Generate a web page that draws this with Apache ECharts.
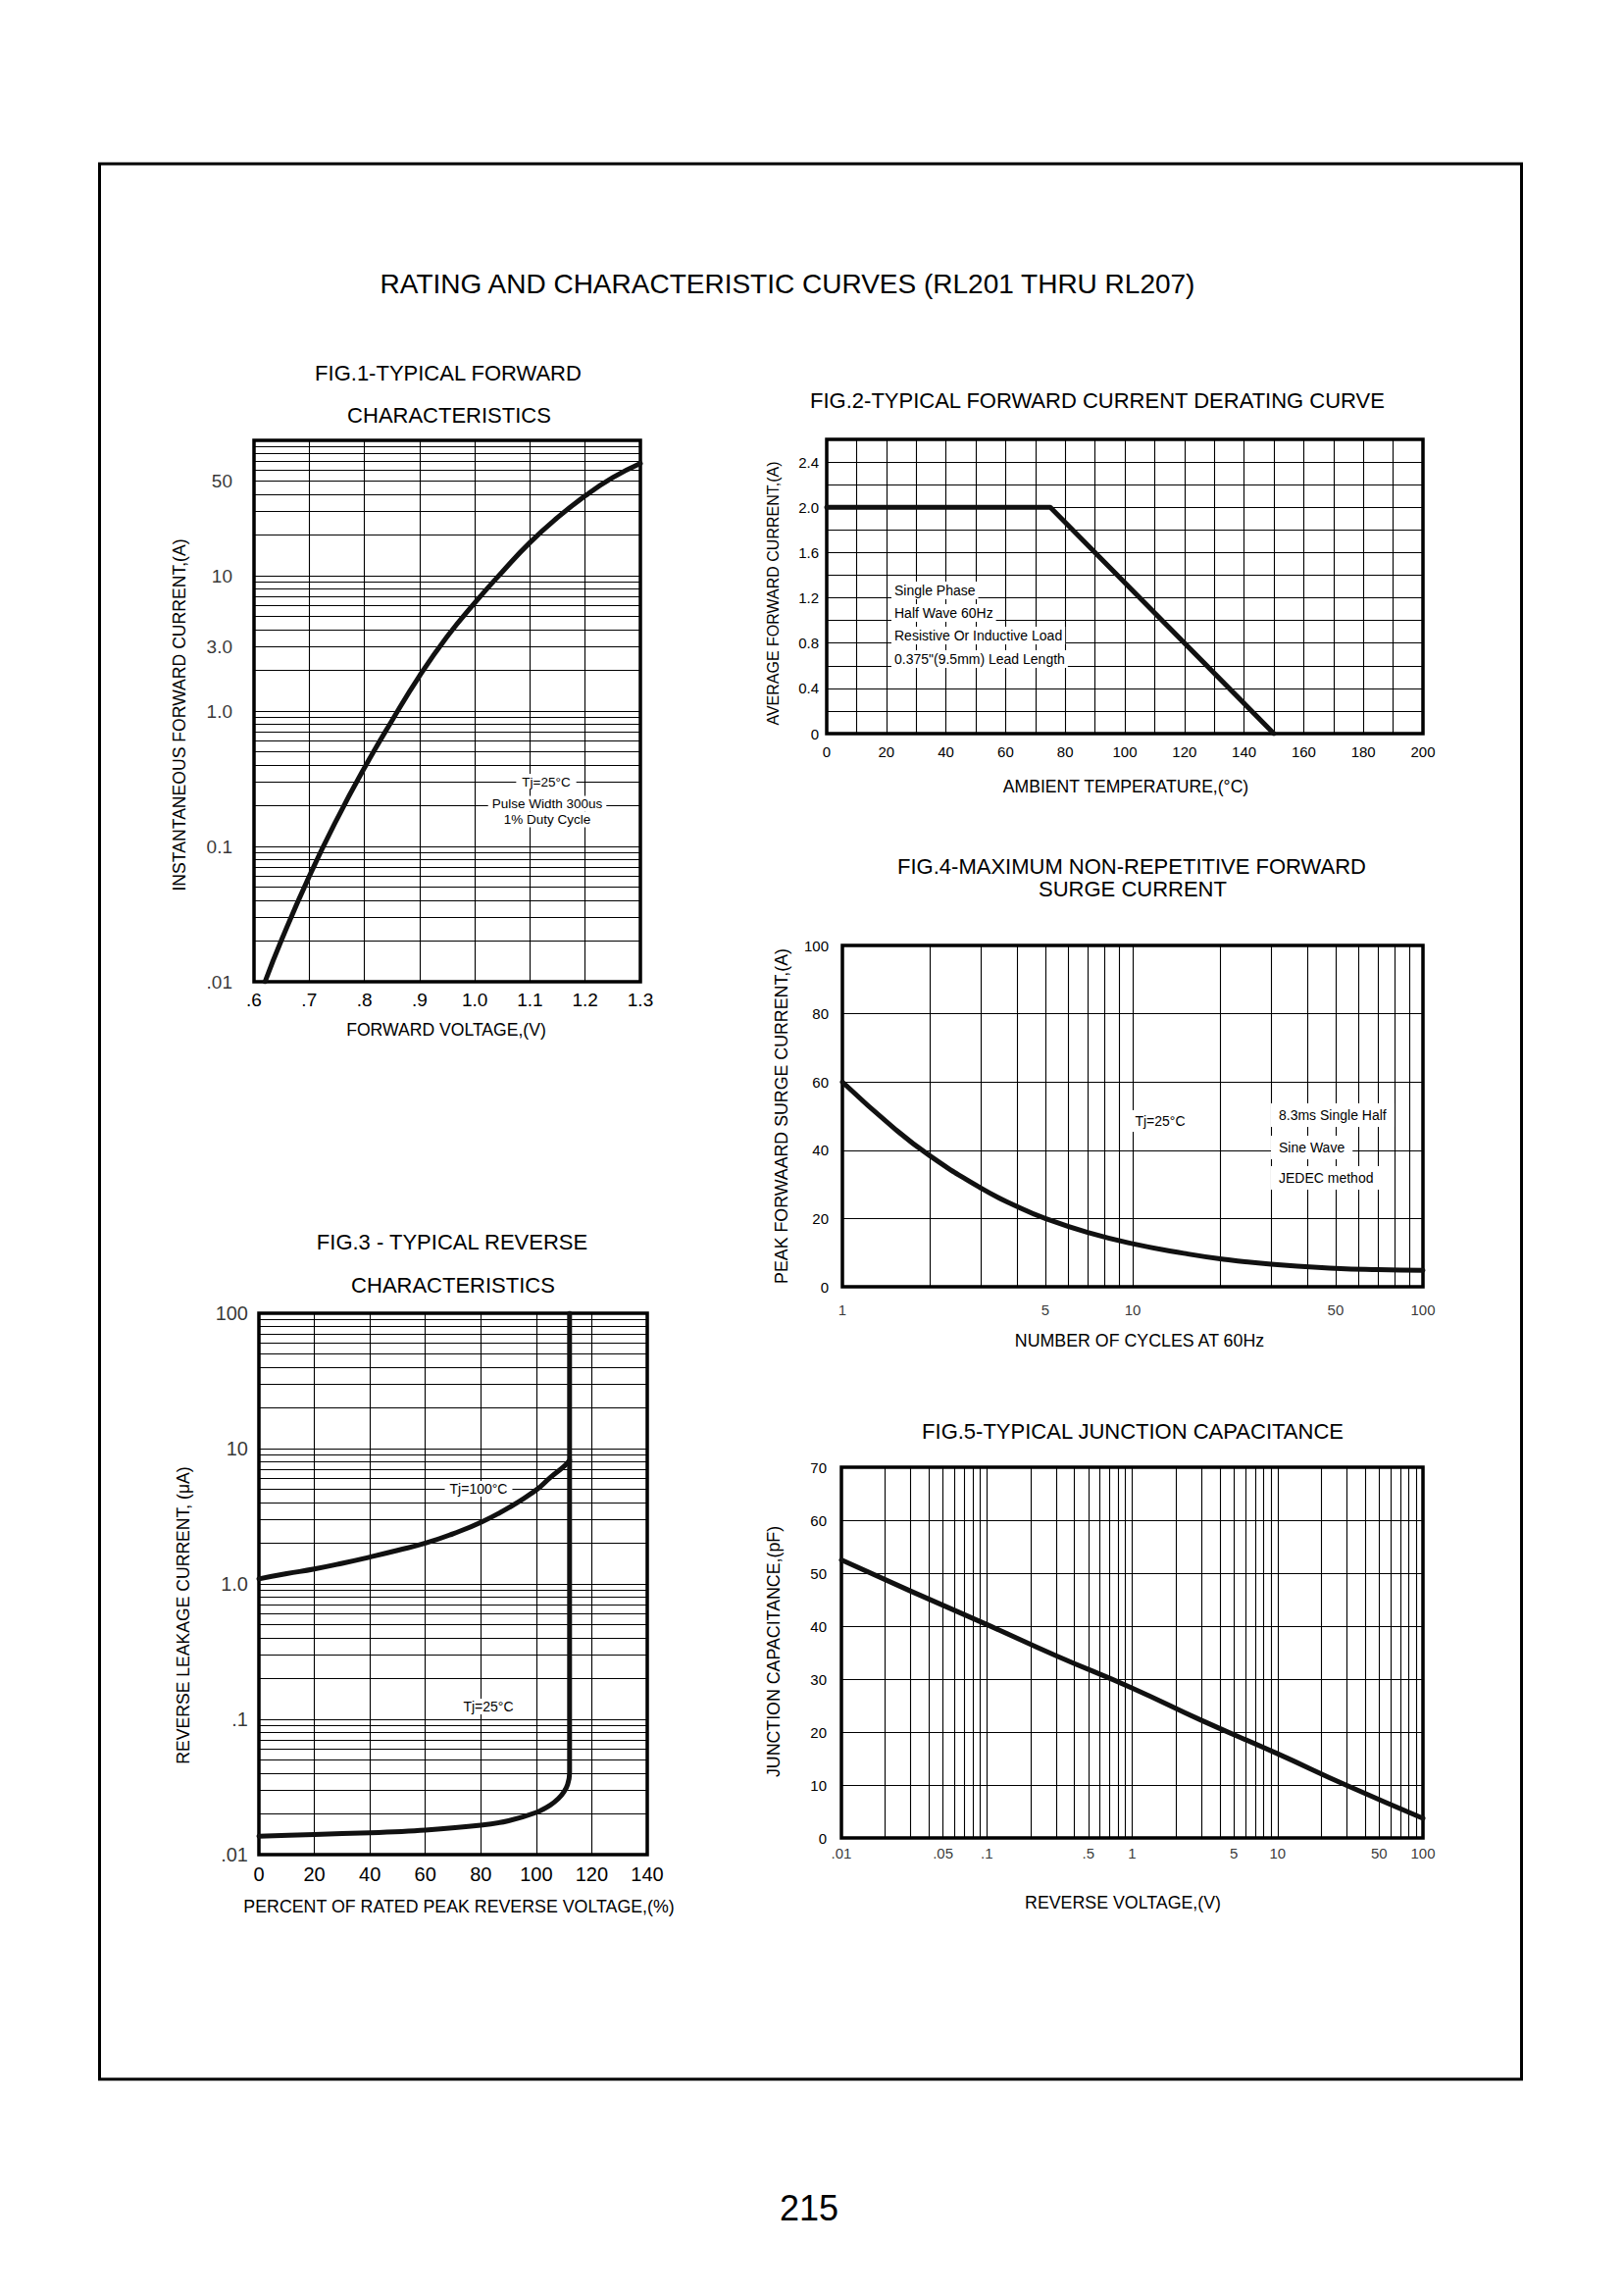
<!DOCTYPE html>
<html>
<head>
<meta charset="utf-8">
<title>RL201 THRU RL207 - Rating and Characteristic Curves</title>
<script src="https://cdn.jsdelivr.net/npm/echarts@6/dist/echarts.min.js"></script>
<style>
html,body{margin:0;padding:0;background:#fff;}
#chart{width:1656px;height:2339px;}
</style>
</head>
<body>
<div id="chart"></div>
<script>
// ===================== DATA =====================
// FIG.1 - Typical forward characteristics (log Y)
const fig1Voltage = [0.62, 0.65, 0.7, 0.75, 0.8, 0.85, 0.9, 0.95, 1.0, 1.05, 1.1, 1.15, 1.2, 1.25, 1.3];
const fig1Current = [0.01, 0.0204, 0.06, 0.158, 0.38, 0.85, 1.82, 3.55, 6.3, 10.7, 17.6, 26.9, 38.9, 53.1, 67.6];
const fig1YTickValues = [50, 10, 3, 1, 0.1, 0.01];
const fig1YTickLabels = ['50', '10', '3.0', '1.0', '0.1', '.01'];

// FIG.2 - Forward current derating curve
const fig2Temperature = [0, 75, 150];
const fig2Current = [2.0, 2.0, 0];

// FIG.3 - Typical reverse characteristics (log Y)
const fig3Percent100 = [0, 10, 20, 30, 40, 50, 60, 70, 80, 90, 100, 105, 110, 112];
const fig3Leakage100 = [1.09, 1.19, 1.29, 1.42, 1.58, 1.77, 2.0, 2.35, 2.85, 3.65, 4.95, 6.1, 7.4, 8.2];
const fig3Percent25 = [0, 20, 40, 60, 80, 90, 100, 105, 108, 110, 111.3, 112, 112, 112];
const fig3Leakage25 = [0.0137, 0.0141, 0.0145, 0.0152, 0.0165, 0.0178, 0.0205, 0.0232, 0.026, 0.0292, 0.033, 0.04, 0.06, 100];
const fig3YTickValues = [100, 10, 1, 0.1, 0.01];
const fig3YTickLabels = ['100', '10', '1.0', '.1', '.01'];

// FIG.4 - Max non-repetitive forward surge current (log X)
const fig4Cycles = [1, 1.5, 2, 3, 4, 5, 7, 10, 15, 20, 30, 50, 70, 100];
const fig4Surge = [60, 46.6, 38.4, 28.9, 23.5, 20.0, 15.9, 12.6, 9.8, 8.2, 6.6, 5.4, 5.0, 4.8];
const fig4XTickValues = [1, 5, 10, 50, 100];
const fig4XTickLabels = ['1', '5', '10', '50', '100'];

// FIG.5 - Typical junction capacitance (log X)
const fig5Voltage = [0.01, 0.03, 0.1, 0.3, 1, 3, 10, 30, 100];
const fig5Capacitance = [52.5, 46.6, 40.3, 34.4, 28.3, 22.2, 15.9, 9.9, 3.7];
const fig5XTickValues = [0.01, 0.05, 0.1, 0.5, 1, 5, 10, 50, 100];
const fig5XTickLabels = ['.01', '.05', '.1', '.5', '1', '5', '10', '50', '100'];

// ===================== HELPERS =====================
const FONT = "'Liberation Sans', Arial, Helvetica, sans-serif";
const INK = '#000';

function logGridValues(minExp, maxExp) {
  const out = [];
  for (let e = minExp; e < maxExp; e++) {
    for (let m = 1; m <= 9; m++) out.push(+(m * Math.pow(10, e)).toPrecision(6));
  }
  out.push(Math.pow(10, maxExp));
  return out;
}
function gridLines(dim, values) {
  return {
    silent: true, animation: false, symbol: ['none', 'none'], z: 1,
    label: { show: false }, emphasis: { disabled: true },
    lineStyle: { color: INK, width: 1.1, type: 'solid', opacity: 1 },
    data: values.map(v => dim === 'y' ? { yAxis: v } : { xAxis: v })
  };
}
function labelSeries(xi, values, labels, fixed, axisDim, pos, dist, size, lines) {
  const s = {
    type: 'scatter', xAxisIndex: xi, yAxisIndex: xi, z: 1, silent: true, clip: false,
    symbolSize: 1, itemStyle: { color: 'rgba(0,0,0,0)' }, animation: false,
    label: { show: true, position: pos, distance: dist, formatter: '{b}', fontSize: size, fontFamily: FONT, color: INK },
    data: values.map((v, i) => ({ name: labels[i], value: axisDim === 'y' ? [fixed, v] : [v, fixed] }))
  };
  if (lines) s.markLine = lines;
  return s;
}
function curve(xi, xs, ys, smooth) {
  return {
    type: 'line', xAxisIndex: xi, yAxisIndex: xi, z: 10, silent: true, symbol: 'none',
    smooth: smooth, animation: false,
    lineStyle: { color: '#111', width: 5, cap: 'round', join: 'round' },
    data: xs.map((x, i) => [x, ys[i]])
  };
}
const splitOn = { show: true, lineStyle: { color: INK, width: 1.1, type: 'solid' } };
const hiddenAxis = { axisLine: { show: false }, axisTick: { show: false }, splitLine: { show: false }, axisLabel: { show: false } };
function linAxis(gi, min, max, interval, labelOpts) {
  return Object.assign({
    gridIndex: gi, type: 'value', min: min, max: max, interval: interval,
    axisLine: { show: false }, axisTick: { show: false }, splitLine: splitOn
  }, { axisLabel: Object.assign({ color: INK, fontFamily: FONT }, labelOpts) });
}
function logAxis(gi, min, max) {
  return Object.assign({ gridIndex: gi, type: 'log', logBase: 10, min: min, max: max }, hiddenAxis);
}
function gridBox(left, top, width, height) {
  return { left, top, width, height, show: true, borderColor: INK, borderWidth: 3.5,
           backgroundColor: 'rgba(0,0,0,0)', containLabel: false, outerBoundsMode: 'none' };
}
function txt(text, x, y, size, extra) {
  const el = { type: 'text', x: x, y: y, z: 100, silent: true,
    style: { text: text, fontSize: size, fontFamily: FONT, fill: INK, align: 'center', verticalAlign: 'middle' } };
  if (extra) {
    if (extra.rotation) el.rotation = extra.rotation;
    if (extra.align) el.style.align = extra.align;
    if (extra.bg) { el.style.backgroundColor = '#fff'; el.style.padding = extra.pad || [2, 5]; }
  }
  return el;
}
const ROT = Math.PI / 2;

// ===================== OPTION =====================
const option = {
  backgroundColor: '#fff',
  animation: false,
  grid: [
    gridBox(259, 449, 394, 552),   // Fig.1
    gridBox(843, 448, 608, 300),   // Fig.2
    gridBox(264, 1339, 396, 552),  // Fig.3
    gridBox(859, 964, 592, 348),   // Fig.4
    gridBox(858, 1496, 593, 378)   // Fig.5
  ],
  xAxis: [
    linAxis(0, 0.6, 1.3, 0.1, { margin: 9, fontSize: 19,
      formatter: v => { const s = v.toFixed(1); return v < 1 ? s.slice(1) : s; } }),
    linAxis(1, 0, 200, 10, { margin: 11, fontSize: 15,
      formatter: v => (Math.round(v) % 20 === 0 ? String(Math.round(v)) : '') }),
    linAxis(2, 0, 140, 20, { margin: 10, fontSize: 20 }),
    logAxis(3, 1, 100),
    logAxis(4, 0.01, 100)
  ],
  yAxis: [
    logAxis(0, 0.01, 100),
    linAxis(1, 0, 2.6, 0.2, { margin: 8, fontSize: 15,
      formatter: v => { const k = Math.round(v / 0.2); return k % 2 === 0 ? (k === 0 ? '0' : (k * 0.2).toFixed(1)) : ''; } }),
    logAxis(2, 0.01, 100),
    linAxis(3, 0, 100, 20, { margin: 14, fontSize: 15 }),
    linAxis(4, 0, 70, 10, { margin: 15, fontSize: 15 })
  ],
  series: [
    // Fig.1
    labelSeries(0, fig1YTickValues, fig1YTickLabels, 0.6, 'y', 'left', 21.5, 19, gridLines('y', logGridValues(-2, 2))),
    curve(0, fig1Voltage, fig1Current, 0.5),
    // Fig.2
    curve(1, fig2Temperature, fig2Current, false),
    // Fig.3
    labelSeries(2, fig3YTickValues, fig3YTickLabels, 0, 'y', 'left', 10.5, 20, gridLines('y', logGridValues(-2, 2))),
    curve(2, fig3Percent100, fig3Leakage100, 0.5),
    curve(2, fig3Percent25, fig3Leakage25, 0.25),
    // Fig.4
    labelSeries(3, fig4XTickValues, fig4XTickLabels, 0, 'x', 'bottom', 15, 15, gridLines('x', logGridValues(0, 2))),
    curve(3, fig4Cycles, fig4Surge, 0.5),
    // Fig.5
    labelSeries(4, fig5XTickValues, fig5XTickLabels, 0, 'x', 'bottom', 7.5, 15, gridLines('x', logGridValues(-2, 2))),
    curve(4, fig5Voltage, fig5Capacitance, 0.5)
  ],
  graphic: [
    { type: 'rect', z: 0, silent: true, shape: { x: 101.5, y: 167, width: 1450, height: 1953 },
      style: { fill: 'none', stroke: INK, lineWidth: 3 } },
    txt('RATING AND CHARACTERISTIC CURVES (RL201 THRU RL207)', 803, 289, 28),
    // Fig.1 texts
    txt('FIG.1-TYPICAL FORWARD', 457, 380, 22),
    txt('CHARACTERISTICS', 458, 423, 22),
    txt('INSTANTANEOUS FORWARD CURRENT,(A)', 183, 729, 17.6, { rotation: ROT }),
    txt('FORWARD VOLTAGE,(V)', 455, 1050, 17.6),
    txt('Tj=25°C', 557, 797, 13.5, { bg: true, pad: [1, 6] }),
    txt('Pulse Width 300us', 558, 819.5, 13.5, { bg: true, pad: [1, 4] }),
    txt('1% Duty Cycle', 558, 835.5, 13.5, { bg: true, pad: [1, 4] }),
    // Fig.2 texts
    txt('FIG.2-TYPICAL FORWARD CURRENT DERATING CURVE', 1119, 408, 22),
    txt('AVERAGE FORWARD CURRENT,(A)', 788, 605, 16, { rotation: ROT }),
    txt('AMBIENT TEMPERATURE,(°C)', 1148, 802, 17.6),
    txt('Single Phase', 909, 602, 14, { align: 'left', bg: true, pad: [2, 3] }),
    txt('Half Wave 60Hz', 909, 625, 14, { align: 'left', bg: true, pad: [2, 3] }),
    txt('Resistive Or Inductive Load', 909, 648, 14, { align: 'left', bg: true, pad: [2, 3] }),
    txt('0.375"(9.5mm) Lead Length', 909, 672, 14, { align: 'left', bg: true, pad: [2, 3] }),
    // Fig.3 texts
    txt('FIG.3 - TYPICAL REVERSE', 461, 1266, 22),
    txt('CHARACTERISTICS', 462, 1310, 22),
    txt('REVERSE LEAKAGE CURRENT, (μA)', 187, 1647, 17.6, { rotation: ROT }),
    txt('PERCENT OF RATED PEAK REVERSE VOLTAGE,(%)', 468, 1944, 17.8),
    txt('Tj=100°C', 488, 1518, 14, { bg: true, pad: [1, 5] }),
    txt('Tj=25°C', 498, 1740, 14, { bg: true, pad: [1, 5] }),
    // Fig.4 texts
    txt('FIG.4-MAXIMUM NON-REPETITIVE FORWARD', 1154, 883, 22),
    txt('SURGE CURRENT', 1155, 906, 22),
    txt('PEAK FORWAARD SURGE CURRENT,(A)', 797, 1138, 17.8, { rotation: ROT }),
    txt('NUMBER OF CYCLES AT 60Hz', 1162, 1367, 17.8),
    txt('Tj=25°C', 1183, 1143, 14, { bg: true, pad: [4, 6] }),
    txt('8.3ms Single Half', 1296, 1137, 14, { align: 'left', bg: true, pad: [5, 8] }),
    txt('Sine Wave', 1296, 1170, 14, { align: 'left', bg: true, pad: [5, 8] }),
    txt('JEDEC method', 1296, 1201, 14, { align: 'left', bg: true, pad: [5, 8] }),
    // Fig.5 texts
    txt('FIG.5-TYPICAL JUNCTION CAPACITANCE', 1155, 1459, 22),
    txt('JUNCTION CAPACITANCE,(pF)', 789, 1684, 17.8, { rotation: ROT }),
    txt('REVERSE VOLTAGE,(V)', 1145, 1940, 17.8),
    // page number
    txt('215', 825, 2251, 36)
  ]
};

const chart = echarts.init(document.getElementById('chart'), null, { renderer: 'svg', width: 1656, height: 2339 });
chart.setOption(option);
</script>
</body>
</html>
